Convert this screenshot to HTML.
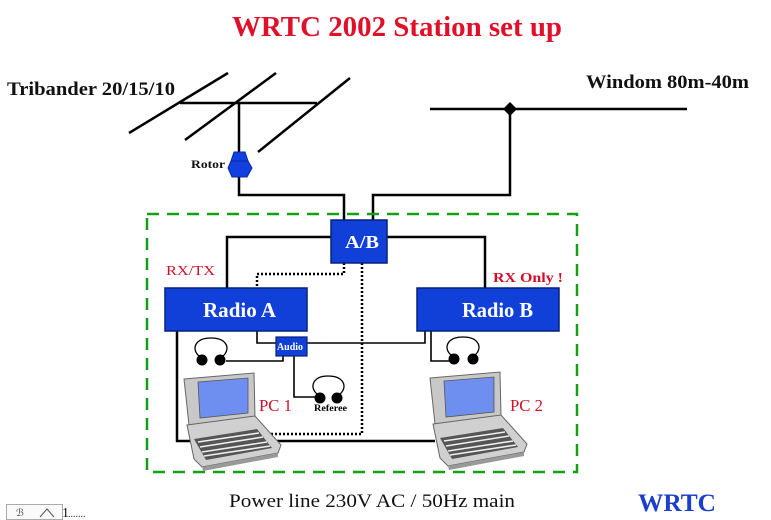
<!DOCTYPE html>
<html><head><meta charset="utf-8"><style>
html,body{margin:0;padding:0;background:#fff;}
svg{display:block;}
text{font-family:"Liberation Serif",serif;}
</style></head><body>
<svg width="771" height="520" viewBox="0 0 771 520" xmlns="http://www.w3.org/2000/svg">
<rect width="771" height="520" fill="#fff"/>
<!-- Title -->
<text x="232" y="36" font-size="28" font-weight="bold" fill="#e0102a" textLength="330" lengthAdjust="spacingAndGlyphs">WRTC 2002 Station set up</text>
<!-- Labels -->
<text x="7" y="95" font-size="19" font-weight="bold" fill="#111" textLength="168" lengthAdjust="spacingAndGlyphs">Tribander 20/15/10</text>
<text x="586" y="88" font-size="19" font-weight="bold" fill="#111" textLength="163" lengthAdjust="spacingAndGlyphs">Windom 80m-40m</text>

<!-- Tribander antenna -->
<g stroke="#000" stroke-width="2.5" fill="none">
<line x1="180" y1="103" x2="317" y2="103"/>
<line x1="129" y1="133" x2="228" y2="73"/>
<line x1="185" y1="140" x2="276" y2="73"/>
<line x1="258" y1="152" x2="350" y2="78"/>
<line x1="239" y1="103" x2="239" y2="153"/>
<polyline points="239,176 239,195 344,195 344,221"/>
<!-- Windom -->
<line x1="430" y1="109" x2="687" y2="109"/>
<polyline points="510,109 510,195 373,195 373,221"/>
</g>
<polygon points="510,102 517,109 510,116 503,109" fill="#000"/>
<!-- Rotor -->
<polygon points="234,152 245,152 248,161 231,161" fill="#1040e0" stroke="#0a2a9a" stroke-width="1"/>
<polygon points="231,161 248,161 252,168 247,177 232,177 228,168" fill="#1040e0" stroke="#0a2a9a" stroke-width="1"/>
<text x="191" y="168" font-size="12" font-weight="bold" fill="#111" textLength="34" lengthAdjust="spacingAndGlyphs">Rotor</text>

<!-- Green dashed box -->
<rect x="147" y="214" width="430" height="258" fill="none" stroke="#14a014" stroke-width="2.5" stroke-dasharray="12,8"/>

<!-- Solid connection lines -->
<g stroke="#000" stroke-width="2.5" fill="none">
<polyline points="331,237 227,237 227,289"/>
<polyline points="387,237 485,237 485,289"/>
<polyline points="177,331 177,441 435,441"/>
</g>
<g stroke="#000" stroke-width="1.6" fill="none">
<polyline points="257,331 257,343 277,343"/>
<polyline points="307,343 425,343 425,331"/>
<polyline points="226,361 283,361 283,356"/>
<polyline points="294,356 294,397 316,397"/>
<polyline points="431,331 431,361 450,361"/>
</g>
<!-- Dotted lines -->
<g stroke="#000" stroke-width="2.5" fill="none" stroke-dasharray="2,2">
<polyline points="344,263 344,274 257,274 257,289"/>
<polyline points="362,263 362,434 268,434"/>
</g>

<!-- A/B -->
<rect x="331" y="220" width="56" height="43" fill="#1040d8" stroke="#06207a" stroke-width="1.5"/>
<text x="345" y="248" font-size="18" font-weight="bold" fill="#fff" textLength="34" lengthAdjust="spacingAndGlyphs">A/B</text>
<!-- Radio A -->
<rect x="165" y="288" width="142" height="43" fill="#1040d8" stroke="#06207a" stroke-width="1.5"/>
<text x="203" y="317" font-size="21" font-weight="bold" fill="#fff" textLength="73" lengthAdjust="spacingAndGlyphs">Radio A</text>
<!-- Radio B -->
<rect x="417" y="288" width="142" height="43" fill="#1040d8" stroke="#06207a" stroke-width="1.5"/>
<text x="462" y="317" font-size="21" font-weight="bold" fill="#fff" textLength="71" lengthAdjust="spacingAndGlyphs">Radio B</text>
<!-- Audio -->
<rect x="276" y="337" width="31" height="19" fill="#1040d8" stroke="#06207a" stroke-width="1.2"/>
<text x="277" y="350" font-size="10" font-weight="bold" fill="#fff" textLength="26" lengthAdjust="spacingAndGlyphs">Audio</text>

<!-- Red labels -->
<text x="166" y="275" font-size="14" fill="#d0102a" textLength="49" lengthAdjust="spacingAndGlyphs">RX/TX</text>
<text x="493" y="282" font-size="14" font-weight="bold" fill="#d0102a" textLength="70" lengthAdjust="spacingAndGlyphs">RX Only !</text>
<text x="259" y="411" font-size="17" fill="#d0102a" textLength="33" lengthAdjust="spacingAndGlyphs">PC 1</text>
<text x="510" y="411" font-size="17" fill="#d0102a" textLength="33" lengthAdjust="spacingAndGlyphs">PC 2</text>

<!-- Headphones -->
<g fill="none" stroke="#000" stroke-width="1.3">
<path d="M199 356 C191 349,195 338,211 338 C227 338,231 349,223 356"/>
<path d="M317 394 C309 387,313 376,328 376 C344 376,348 387,340 394"/>
<path d="M451 355 C443 348,447 337,463 337 C479 337,483 348,475 355"/>
</g>
<g fill="#000">
<circle cx="202" cy="360" r="5.5"/><circle cx="220" cy="360" r="5.5"/>
<circle cx="320" cy="398" r="5.5"/><circle cx="337" cy="398" r="5.5"/>
<circle cx="454" cy="359" r="5.5"/><circle cx="473" cy="359" r="5.5"/>
</g>
<text x="314" y="411" font-size="9.5" font-weight="bold" fill="#000" textLength="33" lengthAdjust="spacingAndGlyphs">Referee</text>

<!-- Laptops -->
<g id="lap2">
<polygon points="430,378 500,372 501,416 435,424" fill="#c8c8c8" stroke="#666" stroke-width="1"/>
<polygon points="444,381 494,377 494,412 446,417" fill="#6f8ff0" stroke="#555" stroke-width="0.8"/>
<polygon points="433,424 501,415 527,444 524,452 448,466 440,458" fill="#d0d0d0" stroke="#666" stroke-width="1"/>
<polygon points="440,438 503,428 518,447 452,459" fill="#555"/>
<g stroke="#eee" stroke-width="1.6">
<line x1="444" y1="441" x2="505" y2="432"/>
<line x1="446" y1="446" x2="509" y2="436"/>
<line x1="448" y1="451" x2="513" y2="441"/>
<line x1="450" y1="455" x2="516" y2="445"/>
</g>
<polygon points="448,466 524,452 524,456 449,470" fill="#999"/>
</g>
<g transform="translate(-246,1)">
<polygon points="430,378 500,372 501,416 435,424" fill="#c8c8c8" stroke="#666" stroke-width="1"/>
<polygon points="444,381 494,377 494,412 446,417" fill="#6f8ff0" stroke="#555" stroke-width="0.8"/>
<polygon points="433,424 501,415 527,444 524,452 448,466 440,458" fill="#d0d0d0" stroke="#666" stroke-width="1"/>
<polygon points="440,438 503,428 518,447 452,459" fill="#555"/>
<g stroke="#eee" stroke-width="1.6">
<line x1="444" y1="441" x2="505" y2="432"/>
<line x1="446" y1="446" x2="509" y2="436"/>
<line x1="448" y1="451" x2="513" y2="441"/>
<line x1="450" y1="455" x2="516" y2="445"/>
</g>
<polygon points="448,466 524,452 524,456 449,470" fill="#999"/>
</g>

<!-- Bottom texts -->
<text x="229" y="507" font-size="19" fill="#111" textLength="286" lengthAdjust="spacingAndGlyphs">Power line 230V AC / 50Hz main</text>
<text x="638" y="511" font-size="25" font-weight="bold" fill="#1a3fcc" textLength="78" lengthAdjust="spacingAndGlyphs">WRTC</text>

<!-- small bottom-left icon -->
<rect x="6.5" y="504.5" width="56" height="15" fill="#fafafa" stroke="#aaa" stroke-width="1"/>
<text x="16" y="516" font-size="10" fill="#444">ℬ</text>
<polyline points="40,517 47,509 54,517" fill="none" stroke="#555" stroke-width="1"/>
<text x="62" y="517" font-size="14" fill="#111">1</text>
<text x="68" y="517" font-size="10" fill="#333">.......</text>
</svg>
</body></html>
